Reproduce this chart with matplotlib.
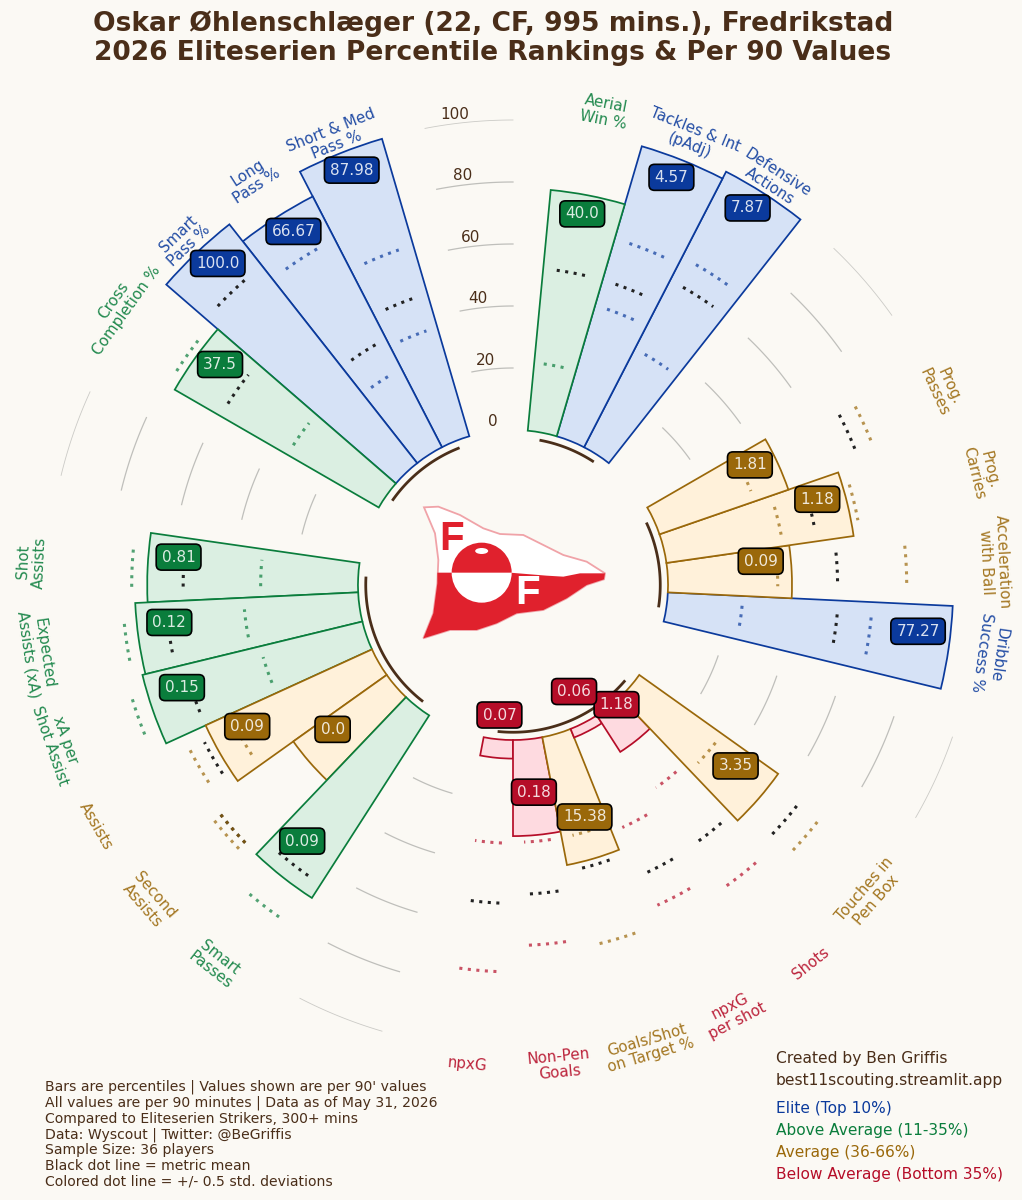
import numpy as np
import matplotlib
matplotlib.use("Agg")
import matplotlib.pyplot as plt
from matplotlib.patches import Polygon, Circle, Ellipse, Wedge

# metrics, clockwise from the top, one list per group
group_sizes = [3, 4, 6, 6, 4]
metrics = ["Aerial\nWin %", "Tackles & Int\n(pAdj)", "Defensive\nActions",
           "Prog.\nPasses", "Prog.\nCarries", "Acceleration\nwith Ball", "Dribble\nSuccess %",
           "Touches in\nPen Box", "Shots", "npxG\nper shot", "Goals/Shot\non Target %", "Non-Pen\nGoals", "npxG",
           "Smart\nPasses", "Second\nAssists", "Assists", "xA per\nShot Assist", "Expected\nAssists (xA)", "Shot\nAssists",
           "Cross\nCompletion %", "Smart\nPass %", "Long\nPass %", "Short & Med\nPass %"]
percentiles = [78, 97.5, 100,
               44, 61, 40, 92,
               55, 14, 3, 42, 31, 6,
               70, 37, 59, 73, 72, 68,
               76, 98, 91, 100]
per90 = ["40.0", "4.57", "7.87",
         "1.81", "1.18", "0.09", "77.27",
         "3.35", "1.18", "0.06", "15.38", "0.18", "0.07",
         "0.09", "0.0", "0.09", "0.15", "0.12", "0.81",
         "37.5", "100.0", "66.67", "87.98"]
# mean and +/- 0.5 std lines, as percentile-axis values
mean_line = [52.5, 52.5, 60.6,
             68.7, 49, 54.7, 55,
             66, 52, 52.3, 44, 49.8, 52.7,
             64.7, 69.9, 61.7, 59, 62, 56.4,
             59, 81, 39.3, 47.9]
upper_line = [None, 66.4, 69,
              74.5, 63.2, 77, 66,
              74.4, 69, 63.3, 69, 66.3, 74.8,
              81, 72.7, 67, 78.2, 76, 73,
              78.6, None, 75.5, 64.2]
lower_line = [22, 44, 35.7,
              32.5, 38, 35.4, 24.2,
              32.8, 30, 35.8, 33, 33, 33.3,
              None, 69.9, 50.5, 33.9, 37, 31.4,
              34, None, 28.4, 36.6]
grid_values = [0, 20, 40, 60, 80, 100]

notes = ("Bars are percentiles | Values shown are per 90' values\n"
         "All values are per 90 minutes | Data as of May 31, 2026\n"
         "Compared to Eliteserien Strikers, 300+ mins\n"
         "Data: Wyscout | Twitter: @BeGriffis\n"
         "Sample Size: 36 players\n"
         "Black dot line = metric mean\n"
         "Colored dot line = +/- 0.5 std. deviations")

BG = "#fbf9f4"
BROWN = "#4a2e19"
edge_colors = {"elite": "#0b3a9c", "above": "#0a7d3c", "avg": "#9a680a", "below": "#b50d28"}
fill_colors = {"elite": "#d6e2f6", "above": "#dbefe2", "avg": "#fff1da", "below": "#fedae0"}
# a few labels sit nearer the bars than the rest
label_r = {"Prog.\nPasses": 102, "Touches in\nPen Box": 102.5, "Smart\nPass %": 104}


def tier(p):
    if p >= 90:
        return "elite"
    if p >= 65:
        return "above"
    if p >= 36:
        return "avg"
    return "below"


# slots around the circle, two empty ones between groups
n_slots = sum(group_sizes) + 2 * len(group_sizes)
slot_width = 2 * np.pi / n_slots
slots = []
gaps = []
k = 1
for size in group_sizes:
    slots.append(list(range(k, k + size)))
    gaps.append((k + size, k + size + 1))
    k += size + 2
flat_slots = [s for g in slots for s in g]
thetas = [s * slot_width for s in flat_slots]

fig = plt.figure(figsize=(10.22, 12), dpi=100, facecolor=BG)
# 3.1 px per percentile, centre of the circle at pixel (513, 585)
r_max = 112
radius_px = (r_max + 50) * 3.1
ax = fig.add_axes([(513 - radius_px) / 1022, (1200 - 585 - radius_px) / 1200,
                   2 * radius_px / 1022, 2 * radius_px / 1200], polar=True)
ax.set_theta_zero_location("N")
ax.set_theta_direction(-1)
ax.set_rorigin(-50)
ax.set_ylim(0, r_max)
ax.axis("off")

# grid arcs only show in the gaps
for a, b in gaps:
    t = np.linspace(a * slot_width, b * slot_width, 30)
    for g in grid_values[1:]:
        ax.plot(t, [g] * len(t), color="#bfbfbb", lw=0.6 if g == 100 else 0.9, zorder=1,
                alpha=0.8 if g == 100 else 1)

for g in grid_values:
    ax.text(np.radians(-7), g + 3, str(g), color=BROWN, fontsize=11, ha="center", va="center", zorder=2)

# earlier bars sit on top of later ones
for i in range(len(thetas) - 1, -1, -1):
    c = tier(percentiles[i])
    bars = ax.bar(thetas[i], percentiles[i], width=slot_width, bottom=0, color=fill_colors[c],
                  edgecolor=edge_colors[c], linewidth=1.25, zorder=3 + (len(thetas) - i) * 0.01)
    bars[0].set_clip_on(False)

half = np.radians(3)
for i, th in enumerate(thetas):
    c = tier(percentiles[i])
    t = np.linspace(th - half, th + half, 12)
    ax.plot(t, [mean_line[i]] * 12, ls=(0, (1, 1.8)), lw=2.2, color="#222222", zorder=5)
    for val in (upper_line[i], lower_line[i]):
        if val is not None:
            ax.plot(t, [val] * 12, ls=(0, (1, 1.8)), lw=2.2, color=edge_colors[c], alpha=0.7, zorder=5)

# group arcs under the bars
for g in slots:
    t = np.linspace(g[0] * slot_width, g[-1] * slot_width, 60)
    ax.plot(t, [-2.5] * 60, color=BROWN, lw=2, zorder=6, clip_on=False)

for i, th in enumerate(thetas):
    c = tier(percentiles[i])
    deg = np.degrees(th)
    ax.annotate(per90[i], xy=(th, percentiles[i] - 10), xytext=(0, 8.6), textcoords="offset points",
                ha="center", va="center", fontsize=11, color=(1, 1, 1, 0.85), zorder=9,
                bbox=dict(boxstyle="round,pad=0.36", facecolor=edge_colors[c], edgecolor="black", linewidth=1.2),
                annotation_clip=False)
    if deg <= 110 or deg >= 270:
        rot = -deg
    else:
        rot = 180 - deg
    ax.text(th, label_r.get(metrics[i], 105.5), metrics[i], rotation=rot, rotation_mode="anchor",
            ha="center", va="center", fontsize=10.9, color=edge_colors[c], alpha=0.9, linespacing=1.1, zorder=2)

# overlay in pixel coordinates for badge and text
over = fig.add_axes([0, 0, 1, 1], zorder=10)
over.set_xlim(0, 1022)
over.set_ylim(1200, 0)
over.axis("off")
over.patch.set_alpha(0)

RED = "#e0212d"
def lg(pts):
    # zoomed crop coordinates of the badge to figure pixels
    return [(400 + x / 3, 480 + y / 3) for x, y in pts]

flag = [(72, 82), (115, 80), (180, 105), (250, 145), (300, 162), (370, 165), (430, 195), (490, 225),
        (560, 245), (615, 280), (612, 298), (560, 315), (500, 355), (430, 390), (350, 400), (290, 430),
        (230, 450), (150, 450), (70, 475), (100, 400), (112, 310), (115, 240), (105, 160)]
lower = [(112, 278), (330, 278), (440, 287), (490, 290), (540, 280), (615, 280), (612, 298), (560, 315),
         (500, 355), (430, 390), (350, 400), (290, 430), (230, 450), (150, 450), (70, 475), (100, 400), (112, 310)]
over.add_patch(Polygon(lg(flag), closed=True, facecolor="white", edgecolor="#f0a3a8", lw=1.3))
over.add_patch(Polygon(lg(lower), closed=True, facecolor=RED, edgecolor="none"))
ball = (400 + 245 / 3, 480 + 278 / 3)
over.add_patch(Circle(ball, 30, facecolor="white", edgecolor="none"))
over.add_patch(Wedge(ball, 30, 180, 360, facecolor=RED, edgecolor="none"))
over.add_patch(Ellipse((400 + 245 / 3, 480 + 213 / 3), 13, 6, facecolor="white", edgecolor="none"))
over.text(400 + 155 / 3, 480 + 176 / 3, "F", color=RED, fontsize=29, fontweight="bold", family="Liberation Sans", ha="center", va="center")
over.text(400 + 383 / 3, 480 + 340 / 3, "F", color="white", fontsize=29, fontweight="bold", family="Liberation Sans", ha="center", va="center")

over.text(493, 38, "Oskar Øhlenschlæger (22, CF, 995 mins.), Fredrikstad\n2026 Eliteserien Percentile Rankings & Per 90 Values",
          ha="center", va="center", fontsize=19.1, fontweight="bold", color=BROWN, linespacing=1.15)
over.text(45, 1134, notes, ha="left", va="center", fontsize=10.1, color=BROWN, linespacing=1.15)
over.text(776, 1059, "Created by Ben Griffis", ha="left", va="center", fontsize=11.2, color=BROWN)
over.text(776, 1080, "best11scouting.streamlit.app", ha="left", va="center", fontsize=11.2, color=BROWN)
legend_labels = ["Elite (Top 10%)", "Above Average (11-35%)", "Average (36-66%)", "Below Average (Bottom 35%)"]
legend_tiers = ["elite", "above", "avg", "below"]
for n, (lab, c) in enumerate(zip(legend_labels, legend_tiers)):
    over.text(776, 1108 + n * 22, lab, ha="left", va="center", fontsize=11.1, color=edge_colors[c])

fig.savefig("out.png", dpi=100, facecolor=BG)
